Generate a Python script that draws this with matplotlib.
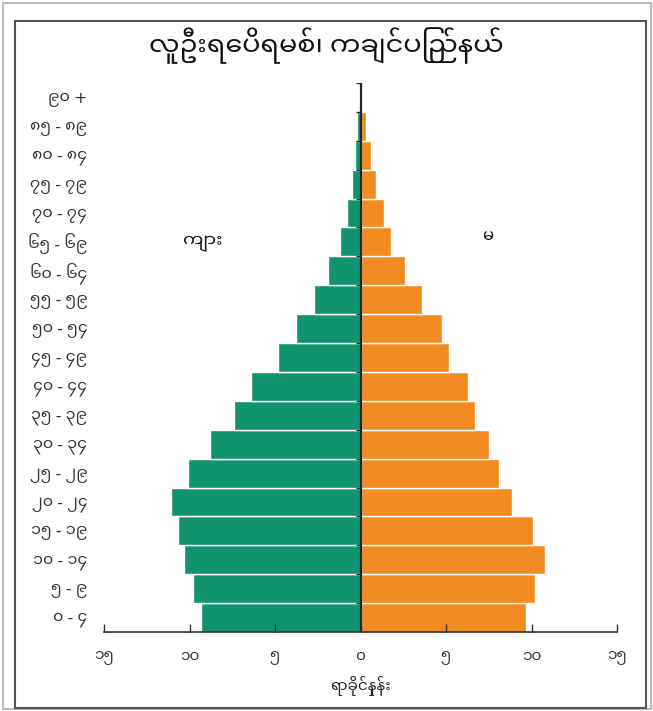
import matplotlib
matplotlib.use('Agg')
import matplotlib.pyplot as plt
from matplotlib import font_manager
from matplotlib.ft2font import FT2Font

# age groups, bottom to top
age_groups = ['၀ - ၄', '၅ - ၉', '၁၀ - ၁၄', '၁၅ - ၁၉', '၂၀ - ၂၄', '၂၅ - ၂၉',
              '၃၀ - ၃၄', '၃၅ - ၃၉', '၄၀ - ၄၄', '၄၅ - ၄၉', '၅၀ - ၅၄', '၅၅ - ၅၉',
              '၆၀ - ၆၄', '၆၅ - ၆၉', '၇၀ - ၇၄', '၇၅ - ၇၉', '၈၀ - ၈၄', '၈၅ - ၈၉',
              '၉၀ +']
male = [9.3, 9.8, 10.3, 10.7, 11.1, 10.1, 8.8, 7.4, 6.4, 4.8,
        3.8, 2.7, 1.9, 1.2, 0.8, 0.5, 0.3, 0.18, 0.1]
female = [9.7, 10.2, 10.8, 10.1, 8.85, 8.1, 7.5, 6.7, 6.3, 5.2,
          4.75, 3.6, 2.6, 1.8, 1.35, 0.9, 0.6, 0.3, 0.1]
x_ticks = [-15, -10, -5, 0, 5, 10, 15]
x_tick_labels = ['၁၅', '၁၀', '၅', '၀', '၅', '၁၀', '၁၅']

title = 'လူဦးရေပိရမစ်၊ ကချင်ပြည်နယ်'
male_label = 'ကျား'
female_label = 'မ'
x_label = 'ရာခိုင်နှုန်း'

# look for an installed font with Myanmar glyphs, prefer a sans one
candidates = []
for f in font_manager.fontManager.ttflist:
    try:
        if 0x1000 in FT2Font(f.fname).get_charmap():
            candidates.append(f.name)
    except Exception:
        pass
def rank(name):
    n = name.lower()
    if 'noto sans myanmar' in n:
        return 0
    if 'padauk' in n:
        return 1
    if 'myanmar' in n and 'serif' not in n:
        return 2
    return 3
candidates.sort(key=rank)
families = candidates[:1] + ['DejaVu Sans']
plt.rcParams['font.family'] = families

fig = plt.figure(figsize=(6.53, 7.11), dpi=100)
ax = fig.add_axes([104 / 653, 1 - 632 / 711, 513 / 653, 549 / 711])

pos = list(range(len(age_groups)))
ax.barh(pos, [-v for v in male], height=1.0, color='#10936f',
        edgecolor='white', linewidth=1.0)
ax.barh(pos, female, height=1.0, color='#f28b22',
        edgecolor='white', linewidth=1.0)
ax.axvline(0, color='#1e2a22', linewidth=1.6)
# small ticks on the centre axis
ax.hlines([p - 0.5 for p in pos] + [pos[-1] + 0.5], -0.25, 0,
          color='#1e2a22', linewidth=1)

ax.set_xlim(-15, 15)
ax.set_ylim(-0.5, len(age_groups) - 0.5)
ax.set_xticks(x_ticks)
ax.set_xticklabels(x_tick_labels, fontsize=11, color='#333333')
ax.set_yticks(pos)
ax.set_yticklabels(age_groups, fontsize=11.5, color='#333333')
ax.tick_params(axis='y', length=0, pad=12)
ax.tick_params(axis='x', direction='in', length=6, width=1,
               color='#333333', pad=13)
for s in ['top', 'right', 'left']:
    ax.spines[s].set_visible(False)
ax.spines['bottom'].set_color('#333333')
ax.spines['bottom'].set_linewidth(1.2)

ax.set_xlabel(x_label, fontsize=11, labelpad=8, color='#222222')
fig.text(326 / 653, 1 - 46 / 711, title, fontsize=19.5, ha='center',
         va='center', color='#111111')
fig.text(203 / 653, 1 - 243 / 711, male_label, fontsize=13, ha='center',
         va='center', color='#111111')
fig.text(488 / 653, 1 - 237 / 711, female_label, fontsize=12, ha='center',
         va='center', color='#111111')

# outer frames
fig.patches.append(plt.Rectangle((3 / 653, 2 / 711), 648 / 653, 706 / 711,
                                 transform=fig.transFigure, fill=False,
                                 edgecolor='#bbbbbb', linewidth=1.5))
fig.patches.append(plt.Rectangle((15 / 653, 1 - 708 / 711), 631 / 653, 687 / 711,
                                 transform=fig.transFigure, fill=False,
                                 edgecolor='#555555', linewidth=1.5))

fig.savefig('out.png', dpi=100)
